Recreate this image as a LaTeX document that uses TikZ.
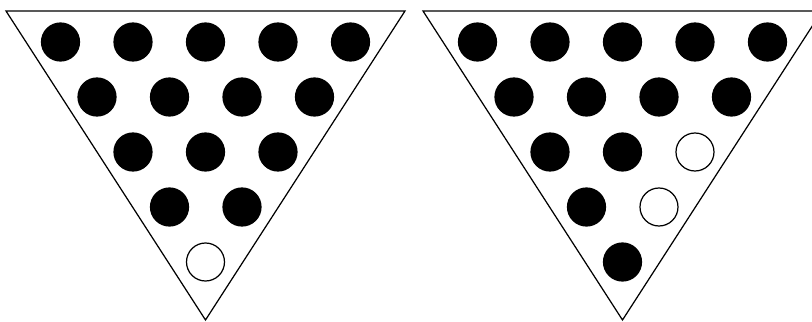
\documentclass[tikz,border=0pt]{standalone}
\begin{document}
\begin{tikzpicture}[
            line width=0.7pt,
            board/.style={draw=black, line join=miter},
            peg/.style={circle, draw=black, fill=black, minimum size=0.76cm, inner sep=0pt},
            hole/.style={circle, draw=black, fill=white, minimum size=0.76cm, inner sep=0pt}
        ]

        % frame of the picture (the right board runs off the edge)
        \clip (0, 0) rectangle (16.24, 6.44);

        % ==========================================
        % LEFT BOARD: start position
        % ==========================================
        \draw[board] (0.12, 6.22) -- (8.10, 6.22) -- (4.11, 0.04) -- cycle;

        % Row 1
        \node[peg] (la1) at (1.21, 5.6) {};
        \node[peg] (la2) at (2.66, 5.6) {};
        \node[peg] (la3) at (4.11, 5.6) {};
        \node[peg] (la4) at (5.56, 5.6) {};
        \node[peg] (la5) at (7.01, 5.6) {};

        % Row 2
        \node[peg] (lb1) at (1.94, 4.5) {};
        \node[peg] (lb2) at (3.39, 4.5) {};
        \node[peg] (lb3) at (4.84, 4.5) {};
        \node[peg] (lb4) at (6.29, 4.5) {};

        % Row 3
        \node[peg] (lc1) at (2.66, 3.4) {};
        \node[peg] (lc2) at (4.11, 3.4) {};
        \node[peg] (lc3) at (5.56, 3.4) {};

        % Row 4
        \node[peg] (ld1) at (3.39, 2.3) {};
        \node[peg] (ld2) at (4.84, 2.3) {};

        % Row 5 (empty hole)
        \node[hole] (le1) at (4.11, 1.2) {};

        % ==========================================
        % RIGHT BOARD: after the first jump
        % ==========================================
        % Same board, shifted right by 8.34cm
        \begin{scope}[xshift=8.34cm]
            \draw[board] (0.12, 6.22) -- (8.10, 6.22) -- (4.11, 0.04) -- cycle;

            % Row 1
            \node[peg] (ra1) at (1.21, 5.6) {};
            \node[peg] (ra2) at (2.66, 5.6) {};
            \node[peg] (ra3) at (4.11, 5.6) {};
            \node[peg] (ra4) at (5.56, 5.6) {};
            \node[peg] (ra5) at (7.01, 5.6) {};

            % Row 2
            \node[peg] (rb1) at (1.94, 4.5) {};
            \node[peg] (rb2) at (3.39, 4.5) {};
            \node[peg] (rb3) at (4.84, 4.5) {};
            \node[peg] (rb4) at (6.29, 4.5) {};

            % Row 3
            \node[peg] (rc1) at (2.66, 3.4) {};
            \node[peg] (rc2) at (4.11, 3.4) {};
            \node[hole] (rc3) at (5.56, 3.4) {};

            % Row 4
            \node[peg] (rd1) at (3.39, 2.3) {};
            \node[hole] (rd2) at (4.84, 2.3) {};

            % Row 5
            \node[peg] (re1) at (4.11, 1.2) {};
        \end{scope}

        \end{tikzpicture}
\end{document}
